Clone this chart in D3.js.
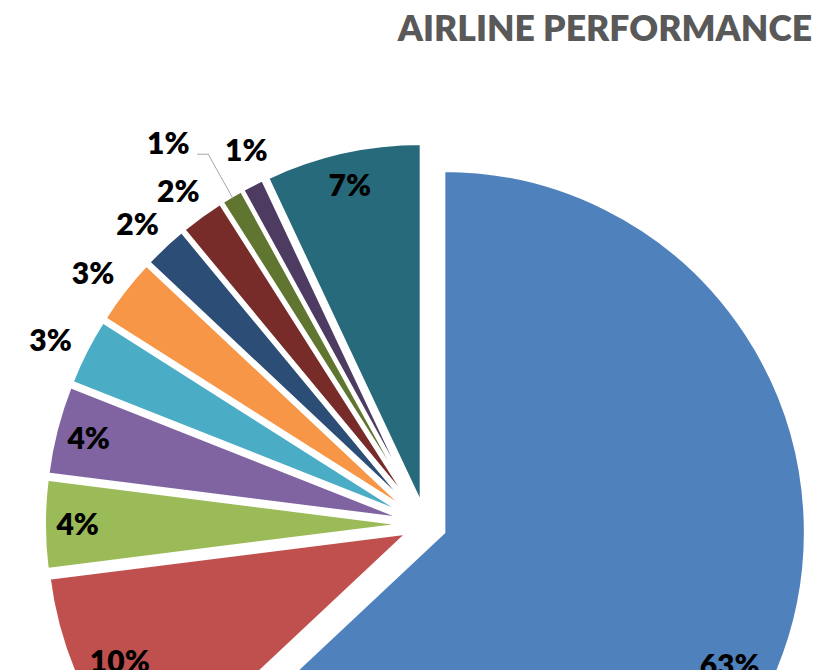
<!DOCTYPE html>
<html>
<head>
<meta charset="utf-8">
<script src="https://cdn.jsdelivr.net/npm/d3@7"></script>
<style>
  html, body { margin: 0; padding: 0; background: #ffffff; }
  svg { display: block; }
</style>
</head>
<body>
<script>
// ---- data ----
const categories = ["Airline 1", "Airline 2", "Airline 3", "Airline 4", "Airline 5", "Airline 6",
                    "Airline 7", "Airline 8", "Airline 9", "Airline 10", "Airline 11"];
const values = [63, 10, 4, 4, 3, 3, 2, 2, 1, 1, 7];
const labels = ["63%", "10%", "4%", "4%", "3%", "3%", "2%", "2%", "1%", "1%", "7%"];
const colors = ["#4F81BD", "#C0504D", "#9BBB59", "#8064A2", "#4BACC6", "#F79646",
                "#2C4D75", "#772C2A", "#5F7530", "#4D3B62", "#276A7C"];
const title = "AIRLINE PERFORMANCE";

// ---- layout ----
const W = 827, H = 670;
const cx = 425.7, cy = 524.4, R = 362, EXPLODE = 19.5;

const svg = d3.select("body").append("svg").attr("width", W).attr("height", H);

svg.append("text")
  .attr("x", 812).attr("y", 41)
  .attr("text-anchor", "end")
  .attr("font-family", "Lato, 'Open Sans', sans-serif")
  .attr("font-weight", 800)
  .attr("font-size", 35.5)
  .attr("fill", "#595959")
  .text(title);

const arcs = d3.pie().sort(null).value(d => d)(values);
const arc = d3.arc().innerRadius(0).outerRadius(R);
const g = svg.append("g").attr("transform", `translate(${cx},${cy})`);

const mid = d => (d.startAngle + d.endAngle) / 2;
const unit = a => [Math.sin(a), -Math.cos(a)];

g.selectAll("path.slice").data(arcs).enter().append("path")
  .attr("class", "slice")
  .attr("transform", d => { const u = unit(mid(d)); return `translate(${u[0]*EXPLODE},${u[1]*EXPLODE})`; })
  .attr("d", arc)
  .attr("fill", (d, i) => colors[i])
  .attr("stroke", "#ffffff")
  .attr("stroke-width", 3.5)
  .attr("stroke-linejoin", "miter");

// label placement (Excel-like best fit)
const LEADER = 8;                         // the label that uses a leader line
const nudge = {0: 0.026, 1: 0.020, 8: -0.060, 9: 0.031};
arcs.forEach((d, i) => {
  const inside = values[i] >= 4;
  const a = mid(d) + (nudge[i] || 0);
  let rr, yShift = 0;
  if (inside) rr = values[i] >= 10 ? 335 : 348;
  else if (i === LEADER) rr = 460;
  else { rr = 421; yShift = 7; }
  const u = unit(a);
  const x = u[0] * rr, y = u[1] * rr + yShift;
  g.append("text")
    .attr("x", x).attr("y", y)
    .attr("dy", "0.36em")
    .attr("text-anchor", "middle")
    .attr("font-family", "Lato, 'Open Sans', sans-serif")
    .attr("font-weight", 800)
    .attr("font-size", 30)
    .attr("fill", "#000000")
    .text(labels[i]);
  if (i === LEADER) {
    const um = unit(mid(d));
    const ex = um[0] * (R + EXPLODE - 3), ey = um[1] * (R + EXPLODE - 3);
    g.append("polyline")
      .attr("points", [[x + 29, y + 11], [x + 40, y + 11], [ex, ey]].map(p => p.join(",")).join(" "))
      .attr("fill", "none")
      .attr("stroke", "#A6A6A6")
      .attr("stroke-width", 1);
  }
});
</script>
</body>
</html>
